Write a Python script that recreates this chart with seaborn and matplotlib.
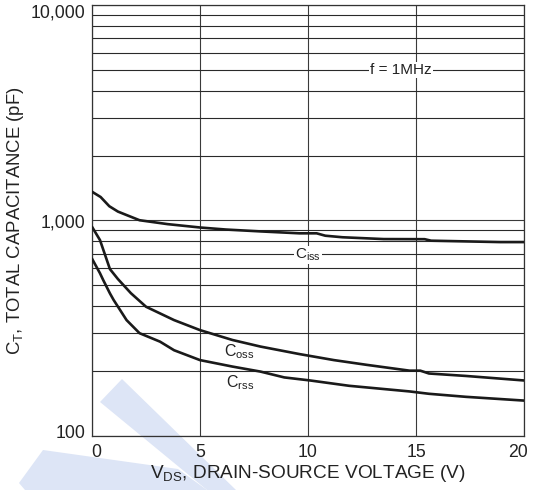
import matplotlib
matplotlib.use("Agg")
import matplotlib.pyplot as plt
from matplotlib.patches import Polygon
from matplotlib.ticker import FixedLocator, NullFormatter
from matplotlib.transforms import ScaledTranslation
import numpy as np
import pandas as pd
import seaborn as sns

# Capacitance vs drain-source voltage, f = 1 MHz
v_iss = [0, 0.4, 0.8, 1.2, 1.6, 2.2, 3.5, 5, 6.2, 7.8, 9.6, 10.4, 10.8, 11.6, 13.5, 15.4, 15.7, 18.9, 20]
c_iss = [1360, 1285, 1165, 1100, 1060, 1003, 962, 928, 908, 890, 872, 872, 850, 836, 820, 819, 806, 794, 794]

v_oss = [0, 0.37, 0.83, 1.2, 1.8, 2.5, 3.8, 5, 6.5, 7.8, 9.6, 11.2, 12.7, 14.7, 15.2, 15.6, 17.3, 20]
c_oss = [935, 811, 595, 535, 460, 398, 345, 310, 279, 260, 240, 225, 214, 201, 201, 195, 190, 181]

v_rss = [0, 0.37, 0.52, 0.83, 1.0, 1.6, 2.2, 3.15, 3.8, 5, 6.5, 7.8, 8.9, 10.1, 11.9, 14.7, 15.6, 17.3, 20]
c_rss = [665, 569, 529, 459, 428, 345, 300, 274, 250, 225, 210, 199, 187, 181, 171, 161, 157, 152, 146]

x_ticks = [0, 5, 10, 15, 20]
y_ticks = [100, 1000, 10000]
y_tick_labels = ["100", "1,000", "10,000"]

sns.set_style("white")
plt.rcParams["font.family"] = ["Liberation Sans", "DejaVu Sans"]
plt.rcParams["mathtext.fontset"] = "custom"
plt.rcParams["mathtext.rm"] = "Liberation Sans"
plt.rcParams["mathtext.it"] = "Liberation Sans"

W, H = 535, 490
fig = plt.figure(figsize=(W / 100, H / 100), dpi=100)
fig.patch.set_facecolor("white")

# light blue emblem behind the chart
wm_color = (0.866, 0.898, 0.964)
def fpoly(pts):
    return Polygon([(x / W, 1 - y / H) for x, y in pts], closed=True,
                   transform=fig.transFigure, facecolor=wm_color,
                   edgecolor="none", zorder=-5)
fig.patches.append(fpoly([(100, 402), (122, 379), (236, 490), (207, 490)]))
fig.patches.append(fpoly([(19, 483), (43, 450), (178, 469), (207, 490), (25, 490)]))

ax = fig.add_axes([92 / W, 1 - 436 / H, 432 / W, 431 / H])
ax.set_facecolor("none")

frames = [
    pd.DataFrame({"V": v_iss, "C": c_iss, "s": "iss"}),
    pd.DataFrame({"V": v_oss, "C": c_oss, "s": "oss"}),
    pd.DataFrame({"V": v_rss, "C": c_rss, "s": "rss"}),
]
for df in frames:
    sns.lineplot(data=df, x="V", y="C", color="#1a1a1a", linewidth=1.9,
                 ax=ax, zorder=4, estimator=None, sort=False)

ax.set_yscale("log")
ax.set_xlim(0, 20)
ax.set_ylim(100, 10000)

ax.set_xticks(x_ticks)
ax.set_xticklabels([str(t) for t in x_ticks])
ax.yaxis.set_major_locator(FixedLocator(y_ticks))
ax.set_yticklabels(y_tick_labels)
minor = [m * d for d in (100, 1000) for m in range(2, 10)]
ax.yaxis.set_minor_locator(FixedLocator(minor))
ax.yaxis.set_minor_formatter(NullFormatter())

ax.grid(True, which="major", axis="both", color="#3a3a3a", linewidth=0.8)
ax.grid(True, which="minor", axis="y", color="#2a2a2a", linewidth=0.8)
ax.set_axisbelow(True)

ax.tick_params(axis="both", which="both", length=0, labelsize=12.7,
               colors="#222222")
ax.tick_params(axis="x", pad=6)
ax.tick_params(axis="y", pad=5)

# keep the end labels inside the frame
def shift(lbl, dx, dy):
    lbl.set_transform(lbl.get_transform() +
                      ScaledTranslation(dx / 100, dy / 100, fig.dpi_scale_trans))
ylbls = ax.get_yticklabels()
shift(ylbls[0], 0, 5)
shift(ylbls[2], 0, -6)
xlbls = ax.get_xticklabels()
shift(xlbls[0], 4, 0)
shift(xlbls[-1], -6, 0)

for sp in ax.spines.values():
    sp.set_color("#333333")
    sp.set_linewidth(0.9)

ax.set_xlabel(r"V$_{\mathregular{DS}}$, DRAIN-SOURCE VOLTAGE (V)",
              fontsize=13.7, color="#222222")
ax.set_ylabel(r"C$_{\mathregular{T}}$, TOTAL CAPACITANCE (pF)",
              fontsize=13.3, color="#222222")
ax.xaxis.set_label_coords(0.5, -0.062)
ax.yaxis.set_label_coords(-0.152, 0.5)

box = dict(facecolor="white", edgecolor="none", pad=0.8)
ax.text(10.0, 690, r"C$_{\mathregular{iss}}$", fontsize=11, ha="center",
        va="center", color="#222222", bbox=box, zorder=3)
ax.text(6.8, 245, r"C$_{\mathregular{oss}}$", fontsize=11.5, ha="center",
        va="center", color="#222222", zorder=3)
ax.text(6.85, 176, r"C$_{\mathregular{rss}}$", fontsize=11.5, ha="center",
        va="center", color="#222222", zorder=3)
ax.text(14.3, 5000, "f = 1MHz", fontsize=11, ha="center", va="center",
        color="#222222", bbox=box, zorder=3)

fig.savefig("out.png", dpi=100, facecolor="white")
